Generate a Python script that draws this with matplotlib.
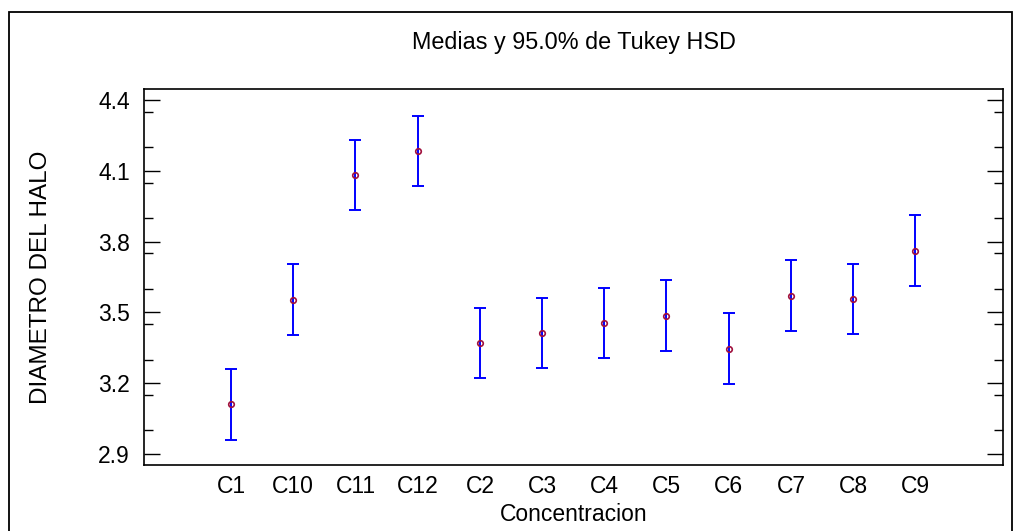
import matplotlib
matplotlib.use('Agg')
import matplotlib.pyplot as plt
from matplotlib.patches import Rectangle
from matplotlib.ticker import MultipleLocator
import numpy as np

plt.rcParams['font.family'] = ['Liberation Sans', 'DejaVu Sans']

# datos
grupos = ['C1', 'C10', 'C11', 'C12', 'C2', 'C3', 'C4', 'C5', 'C6', 'C7', 'C8', 'C9']
medias = [3.110, 3.554, 4.081, 4.183, 3.370, 3.412, 3.455, 3.486, 3.346, 3.570, 3.555, 3.762]
semi_int = [0.149, 0.150, 0.149, 0.149, 0.150, 0.148, 0.148, 0.150, 0.150, 0.150, 0.148, 0.150]
y_ticks = [2.9, 3.2, 3.5, 3.8, 4.1, 4.4]

fs = 16.5

fig = plt.figure(figsize=(10.14, 5.31), dpi=100)
ax = fig.add_axes([144/1014, 1 - 465/531, (1003-144)/1014, (465-89)/531])

x = np.arange(len(grupos))
ax.errorbar(x, medias, yerr=semi_int, fmt='none', ecolor='#0000ff',
            elinewidth=1.4, capsize=4.6, capthick=1.4, zorder=2)
ax.plot(x, medias, 'o', ms=4.0, mfc='none', mec='#a0103c', mew=1.2, zorder=3)

ax.set_xlim(-1.4, 12.41)
ax.set_ylim(2.853, 4.447)
ax.set_xticks(x)
ax.set_xticklabels(grupos, fontsize=fs)
ax.set_yticks(y_ticks)
ax.set_yticklabels(['%.1f' % v for v in y_ticks], fontsize=fs)
ax.yaxis.set_minor_locator(MultipleLocator(0.15))
ax.tick_params(axis='x', length=0, pad=7.5)
ax.tick_params(axis='y', which='major', direction='in', length=11.5, width=1.0,
               left=True, right=True, pad=10)
ax.tick_params(axis='y', which='minor', direction='in', length=6.5, width=1.0,
               left=True, right=True)
for s in ax.spines.values():
    s.set_linewidth(1.2)

ax.set_ylabel('DIAMETRO DEL HALO', fontsize=17.5)
ax.yaxis.set_label_coords((52 - 144) / 859, 0.5)
ax.set_xlabel('Concentracion', fontsize=fs)
ax.xaxis.set_label_coords(0.5, (465 - 503) / 376)
fig.text((144 + 1003) / 2 / 1014, 1 - 42/531, 'Medias y 95.0% de Tukey HSD',
         ha='center', va='center', fontsize=16.8)

# marco exterior
fig.patches.append(Rectangle((9/1014, -0.05), (1012-9)/1014, 1.05 - 12/531,
                             transform=fig.transFigure, fill=False,
                             edgecolor='black', linewidth=1.3))

fig.savefig('out.png', dpi=100)
